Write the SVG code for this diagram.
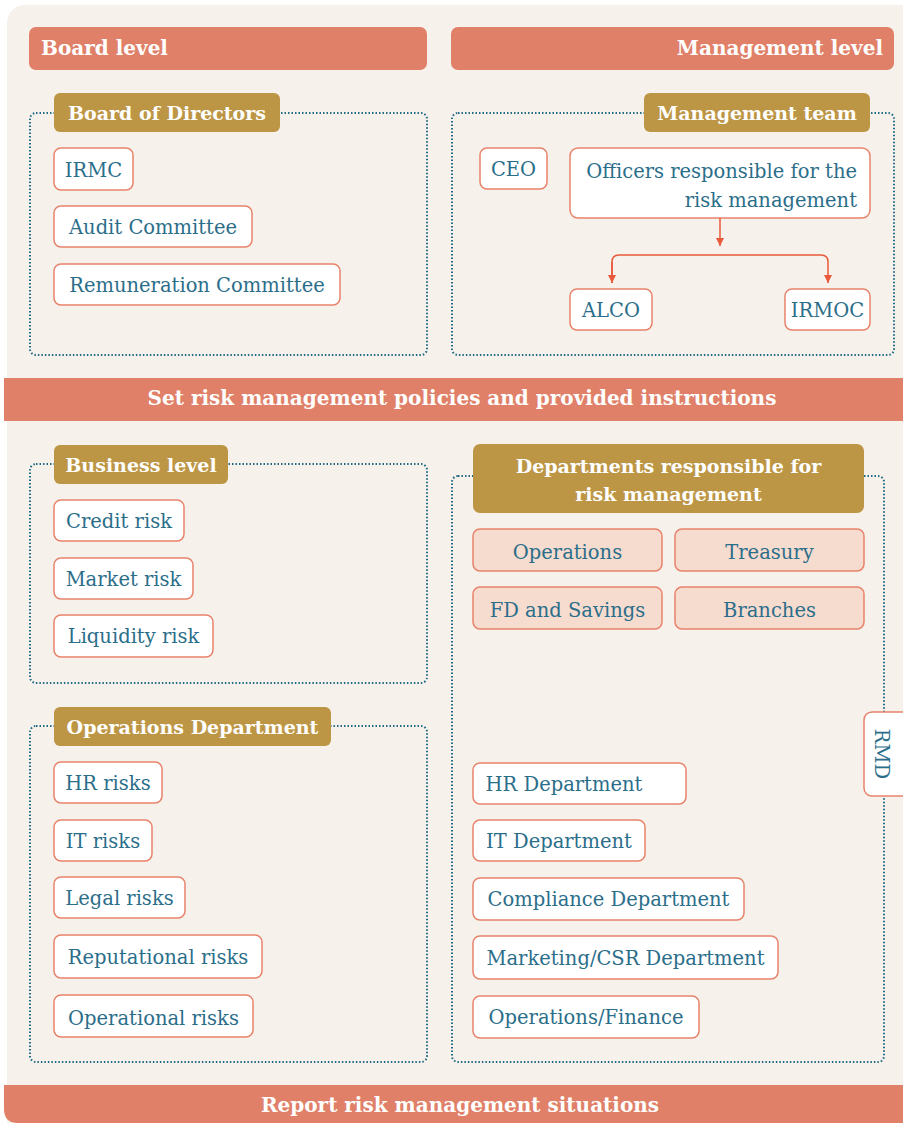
<svg xmlns="http://www.w3.org/2000/svg" width="903" height="1123" viewBox="0 0 903 1123">
<defs>
<style>
.bg{fill:#f6f1eb}
.banner{fill:#e08068}
.btxt{font-family:"DejaVu Serif","Liberation Serif",serif;font-weight:bold;fill:#ffffff;font-size:20px}
.lab{fill:#bd9645}
.ltxt{font-family:"DejaVu Serif","Liberation Serif",serif;fill:#ffffff;font-size:19px;font-weight:bold}
.dot{fill:none;stroke:#1f6a86;stroke-width:2;stroke-dasharray:1.5 2}
.node{fill:#ffffff;stroke:#e8826a;stroke-width:1.5}
.pnode{fill:#f6dbcf;stroke:#e8826a;stroke-width:1.5}
.ntxt{font-family:"DejaVu Serif","Liberation Serif",serif;fill:#2b6e8a;font-size:19.5px}
.conn{fill:none;stroke:#e8583a;stroke-width:1.5}
</style>
<marker id="ah" markerWidth="9" markerHeight="9" refX="8" refY="4" orient="auto" markerUnits="userSpaceOnUse">
<path d="M0,0 L8,4 L0,8 Z" fill="#e8583a"/>
</marker>
</defs>
<rect x="0" y="0" width="903" height="1123" fill="#ffffff"/>
<rect class="bg" x="7" y="5" width="910" height="1140" rx="18"/>

<g id="board-level"><rect class="banner" x="29" y="27" width="398" height="43" rx="7"/><text class="btxt" x="41" y="55">Board level</text></g>
<g id="management-level"><rect class="banner" x="451" y="27" width="443" height="43" rx="7"/><text class="btxt" x="883" y="55" text-anchor="end">Management level</text></g>

<g id="board-of-directors"><rect class="dot" x="30" y="113" width="397" height="242" rx="6"/><rect class="lab" x="54" y="93" width="226" height="39" rx="6"/><text class="ltxt" x="167" y="120" text-anchor="middle">Board of Directors</text></g>
<g id="irmc"><rect class="node" x="54" y="148" width="79" height="42" rx="7"/><text class="ntxt" x="93.5" y="177" text-anchor="middle">IRMC</text></g>
<g id="audit-committee"><rect class="node" x="54" y="206" width="198" height="41" rx="7"/><text class="ntxt" x="153" y="234" text-anchor="middle">Audit Committee</text></g>
<g id="remuneration-committee"><rect class="node" x="54" y="264" width="286" height="41" rx="7"/><text class="ntxt" x="197" y="292" text-anchor="middle">Remuneration Committee</text></g>

<g id="management-team"><rect class="dot" x="452" y="113" width="442" height="242" rx="6"/><rect class="lab" x="644" y="93" width="226" height="39" rx="6"/><text class="ltxt" x="757" y="120" text-anchor="middle">Management team</text></g>
<g id="ceo"><rect class="node" x="480" y="148" width="67" height="41" rx="7"/><text class="ntxt" x="513.5" y="176" text-anchor="middle">CEO</text></g>
<g id="officers"><rect class="node" x="570" y="148" width="300" height="70" rx="8"/><text class="ntxt" x="857" y="178" text-anchor="end">Officers responsible for the</text><text class="ntxt" x="857" y="207" text-anchor="end">risk management</text></g>
<g id="alco"><rect class="node" x="570" y="289" width="82" height="41" rx="7"/><text class="ntxt" x="611" y="317" text-anchor="middle">ALCO</text></g>
<g id="irmoc"><rect class="node" x="785" y="289" width="85" height="41" rx="7"/><text class="ntxt" x="827.5" y="317" text-anchor="middle">IRMOC</text></g>

<g id="set-policies"><rect class="banner" x="4" y="378" width="899" height="43"/><text class="btxt" x="462" y="405" text-anchor="middle">Set risk management policies and provided instructions</text></g>

<g id="business-level"><rect class="dot" x="30" y="464" width="397" height="219" rx="6"/><rect class="lab" x="54" y="445" width="174" height="39" rx="6"/><text class="ltxt" x="141" y="472" text-anchor="middle">Business level</text></g>
<g id="credit-risk"><rect class="node" x="54" y="500" width="130" height="41" rx="7"/><text class="ntxt" x="119" y="528" text-anchor="middle">Credit risk</text></g>
<g id="market-risk"><rect class="node" x="54" y="558" width="139" height="41" rx="7"/><text class="ntxt" x="123.5" y="586" text-anchor="middle">Market risk</text></g>
<g id="liquidity-risk"><rect class="node" x="54" y="615" width="159" height="42" rx="7"/><text class="ntxt" x="133.5" y="643" text-anchor="middle">Liquidity risk</text></g>

<g id="operations-department"><rect class="dot" x="30" y="726" width="397" height="336" rx="6"/><rect class="lab" x="54" y="707" width="277" height="39" rx="6"/><text class="ltxt" x="192.5" y="734" text-anchor="middle">Operations Department</text></g>
<g id="hr-risks"><rect class="node" x="54" y="762" width="108" height="41" rx="7"/><text class="ntxt" x="108" y="790" text-anchor="middle">HR risks</text></g>
<g id="it-risks"><rect class="node" x="54" y="820" width="98" height="41" rx="7"/><text class="ntxt" x="103" y="848" text-anchor="middle">IT risks</text></g>
<g id="legal-risks"><rect class="node" x="54" y="877" width="131" height="41" rx="7"/><text class="ntxt" x="119.5" y="905" text-anchor="middle">Legal risks</text></g>
<g id="reputational-risks"><rect class="node" x="54" y="935" width="208" height="43" rx="7"/><text class="ntxt" x="158" y="964" text-anchor="middle">Reputational risks</text></g>
<g id="operational-risks"><rect class="node" x="54" y="995" width="199" height="42" rx="7"/><text class="ntxt" x="153.5" y="1025" text-anchor="middle">Operational risks</text></g>

<g id="departments"><rect class="dot" x="452" y="476" width="432" height="586" rx="6"/><rect class="lab" x="473" y="444" width="391" height="69" rx="7"/><text class="ltxt" x="668.5" y="473" text-anchor="middle">Departments responsible for</text><text class="ltxt" x="668.5" y="501" text-anchor="middle">risk management</text></g>
<g id="operations"><rect class="pnode" x="473" y="529" width="189" height="42" rx="7"/><text class="ntxt" x="567.5" y="559" text-anchor="middle">Operations</text></g>
<g id="treasury"><rect class="pnode" x="675" y="529" width="189" height="42" rx="7"/><text class="ntxt" x="769.5" y="559" text-anchor="middle">Treasury</text></g>
<g id="fd-savings"><rect class="pnode" x="473" y="587" width="189" height="42" rx="7"/><text class="ntxt" x="567.5" y="617" text-anchor="middle">FD and Savings</text></g>
<g id="branches"><rect class="pnode" x="675" y="587" width="189" height="42" rx="7"/><text class="ntxt" x="769.5" y="617" text-anchor="middle">Branches</text></g>
<g id="rmd"><rect class="node" x="864" y="712" width="50" height="84" rx="8"/><text class="ntxt" x="884" y="763" text-anchor="middle" transform="rotate(90 884 754)">RMD</text></g>
<g id="hr-department"><rect class="node" x="473" y="763" width="213" height="41" rx="7"/><text class="ntxt" x="564" y="791" text-anchor="middle">HR Department</text></g>
<g id="it-department"><rect class="node" x="473" y="820" width="172" height="41" rx="7"/><text class="ntxt" x="559" y="848" text-anchor="middle">IT Department</text></g>
<g id="compliance-department"><rect class="node" x="473" y="878" width="271" height="42" rx="7"/><text class="ntxt" x="608.5" y="906" text-anchor="middle">Compliance Department</text></g>
<g id="marketing-department"><rect class="node" x="473" y="936" width="305" height="43" rx="7"/><text class="ntxt" x="625.5" y="965" text-anchor="middle">Marketing/CSR Department</text></g>
<g id="operations-finance"><rect class="node" x="473" y="996" width="226" height="42" rx="7"/><text class="ntxt" x="586" y="1024" text-anchor="middle">Operations/Finance</text></g>

<g id="report"><path class="banner" d="M4,1085 H903 V1123 H18 Q4,1123 4,1109 Z"/><text class="btxt" x="460" y="1112" text-anchor="middle">Report risk management situations</text></g>

<g id="connectors">
<path class="conn" d="M720,218 V246" marker-end="url(#ah)"/>
<path class="conn" d="M612,283 V262 Q612,255 619,255 H821 Q828,255 828,262 V283" marker-end="url(#ah)"/>
<path class="conn" d="M612,262 V283" marker-end="url(#ah)"/>
</g>
</svg>
